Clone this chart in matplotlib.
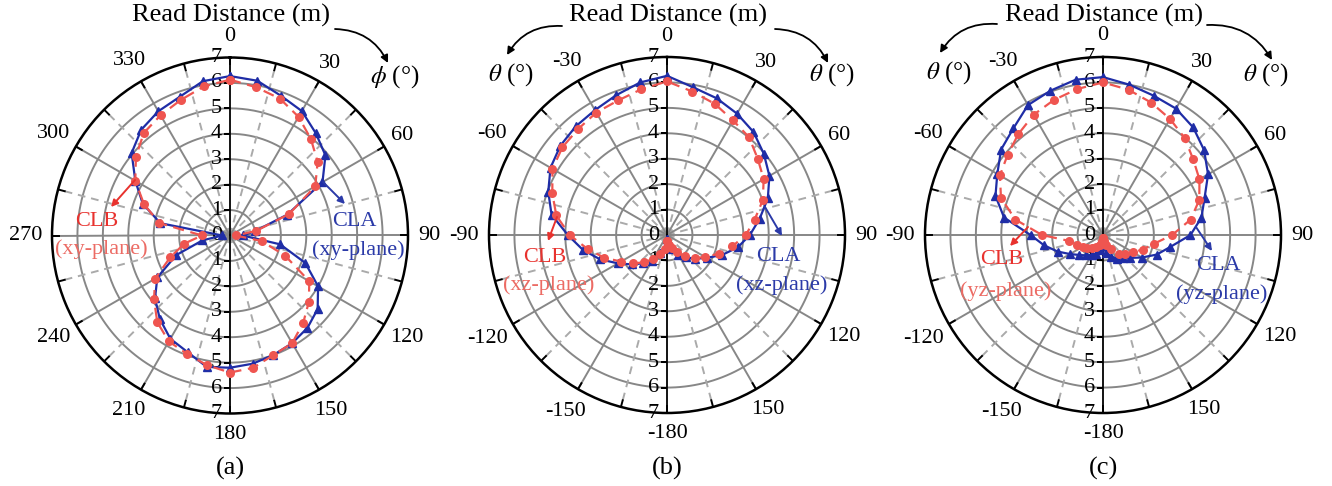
import numpy as np
import matplotlib
matplotlib.use("Agg")
import matplotlib.pyplot as plt
from matplotlib.patches import FancyArrowPatch
from matplotlib.transforms import offset_copy

plt.rcParams['font.family'] = ['Liberation Serif', 'DejaVu Serif']
plt.rcParams['mathtext.fontset'] = 'stix'

# ---------------- data ----------------
# panel (a): phi = 0..350 deg (xy-plane)
phi_a = list(range(0, 360, 10))
cla_a = [6.27, 6.18, 5.85, 5.65, 5.25, 4.9, 4.2, 2.4, 1.0, 0.5, 2.0, 3.15,
         4.0, 4.5, 4.74, 4.89, 5.0, 5.12, 5.2, 5.25, 4.88, 4.69, 4.29, 3.85,
         3.3, 2.25, 1.1, 0.3, 2.78, 3.65, 4.3, 5.05, 5.43, 5.64, 5.8, 6.16]
clb_a = [6.13, 5.92, 5.73, 5.39, 4.95, 4.5, 3.87, 2.48, 1.04, 0.23, 1.26, 2.3,
         3.6, 4.05, 4.48, 4.89, 5.0, 5.28, 5.39, 5.18, 4.95, 4.81, 4.45, 3.9,
         3.4, 2.5, 1.82, 1.1, 2.82, 3.6, 4.3, 4.83, 5.27, 5.46, 5.67, 5.95]

# panels (b), (c): theta = -180..170 deg
theta_bc = list(range(-180, 180, 10))
cla_b = [0.15, 0.5, 0.75, 1.16, 1.45, 1.8, 2.23, 2.8, 3.36, 3.9, 4.61, 4.97,
         5.29, 5.47, 5.58, 5.67, 5.85, 6.09, 6.26, 5.9, 5.72, 5.51, 5.29, 4.97,
         4.65, 4.22, 3.7, 3.26, 2.82, 2.3, 1.8, 1.45, 1.15, 0.9, 0.6, 0.35]
clb_b = [0.25, 0.55, 0.8, 1.09, 1.4, 1.74, 2.09, 2.62, 3.17, 3.83, 4.42, 4.8,
         5.2, 5.37, 5.44, 5.56, 5.63, 5.82, 6.04, 5.73, 5.49, 5.2, 5.02, 4.66,
         4.39, 4.01, 3.5, 3.1, 2.6, 2.16, 1.72, 1.42, 1.1, 0.78, 0.55, 0.4]
cla_c = [0.43, 0.6, 0.78, 0.9, 1.05, 1.22, 1.5, 1.9, 2.35, 2.85, 3.95, 4.5,
         4.8, 5.23, 5.48, 5.9, 6.04, 6.2, 6.21, 6.0, 5.83, 5.74, 5.52, 5.19,
         4.77, 4.25, 3.93, 3.44, 2.69, 2.25, 1.77, 1.4, 1.2, 1.07, 0.9, 0.7]
clb_c = [0.1, 0.25, 0.4, 0.55, 0.68, 0.8, 0.93, 1.1, 1.35, 2.4, 3.5, 4.27,
         4.68, 4.9, 5.18, 5.46, 5.65, 5.83, 6.0, 5.8, 5.54, 5.27, 4.99, 4.63,
         4.38, 4.03, 3.5, 2.72, 2.02, 1.67, 1.35, 1.15, 0.95, 0.63, 0.4, 0.25]

ticks_a = ['0', '30', '60', '90', '120', '150', '180', '210', '240', '270', '300', '330']
ticks_bc = ['0', '30', '60', '90', '120', '150', '-180', '-150', '-120', '-90', '-60', '-30']
rticks = [0, 1, 2, 3, 4, 5, 6, 7]
plane_names = ['(xy-plane)', '(xz-plane)', '(yz-plane)']
panel_names = ['(a)', '(b)', '(c)']

# ---------------- style ----------------
W, H = 1332, 486
R_PX = 178
RMAX = 7
BLUE = '#1f2da6'
BLUE_T = '#2b3aa8'
RED = '#ef5550'
RED_T = '#e8322e'
RED_T2 = '#ec6b64'
GRID = '#878787'
GRID_D = '#aaaaaa'
FS = 16

fig = plt.figure(figsize=(W / 100, H / 100), dpi=100)


def fx(x):
    return x / W


def fy(y):
    return 1 - y / H


def half_width(lab):
    return sum(3.7 if c == '-' else 5.5 for c in lab)


def make_ax(cx, cy, tick_labels):
    ax = fig.add_axes([(cx - R_PX) / W, (H - cy - R_PX) / H, 2 * R_PX / W, 2 * R_PX / H],
                      projection='polar')
    ax.set_theta_zero_location('N')
    ax.set_theta_direction(-1)
    ax.set_ylim(0, RMAX)
    ax.grid(False)
    ax.set_xticks([])
    ax.set_yticks([])
    ax.spines['polar'].set_linewidth(1.8)
    ax.spines['polar'].set_color('black')
    ax.patch.set_facecolor('white')
    th = np.linspace(0, 2 * np.pi, 400)
    for r in range(1, RMAX):
        ax.plot(th, np.full_like(th, r), color=GRID, lw=1.4, zorder=1)
    for d in range(15, 360, 30):
        t = np.deg2rad(d)
        ax.plot([t, t], [0, RMAX], color=GRID_D, lw=1.4, ls=(0, (4, 3)), zorder=1)
    for d in range(0, 360, 30):
        t = np.deg2rad(d)
        if d in (0, 180):
            ax.plot([t, t], [0, RMAX], color='black', lw=1.3, zorder=1.5)
        else:
            ax.plot([t, t], [0, RMAX], color=GRID, lw=1.4, zorder=1)
    for d in range(0, 360, 15):
        t = np.deg2rad(d)
        ax.plot([t, t], [RMAX - 0.27, RMAX], color='black', lw=1.4, zorder=2)
    for k in range(1, RMAX + 1):
        for t in (0, np.pi):
            ax.plot([t], [k], marker=0, color='black', ms=4, mew=1.2, zorder=2)
    for d, lab in zip(range(0, 360, 30), tick_labels):
        t = np.deg2rad(d)
        dist = 199 + max(0.0, half_width(lab) - 11) * abs(np.sin(t))
        ax.text(t, RMAX * dist / R_PX, lab, ha='center', va='center', fontsize=FS,
                clip_on=False)
    tr = offset_copy(ax.transData, fig=fig, x=-8, y=0, units='dots')
    for k in rticks:
        ax.text(0, k, str(k), transform=tr, ha='right', va='center', fontsize=FS, zorder=4)
        if k > 0:
            ax.text(np.pi, k, str(k), transform=tr, ha='right', va='center', fontsize=FS, zorder=4)
    return ax


def draw_series(ax, ang, cla, clb):
    t = np.deg2rad(np.array(list(ang) + [ang[0]]))
    a = np.array(list(cla) + [cla[0]])
    b = np.array(list(clb) + [clb[0]])
    ax.plot(t, a, color=BLUE, lw=1.6, marker='^', ms=6, zorder=5, clip_on=False)
    ax.plot(t, b, color=RED, lw=1.6, ls=(0, (5, 3)), marker='o', ms=6.5,
            markeredgewidth=0, zorder=6, clip_on=False)


def arrow(p0, p1, color, rad=0.0, ms=11, lw=1.3):
    a = FancyArrowPatch((fx(p0[0]), fy(p0[1])), (fx(p1[0]), fy(p1[1])),
                        transform=fig.transFigure, arrowstyle='-|>',
                        connectionstyle=f'arc3,rad={rad}', color=color,
                        mutation_scale=ms, lw=lw, shrinkA=0, shrinkB=0)
    fig.add_artist(a)


centers = [(230, 235.5), (667, 235), (1103, 235)]
axes = []
axes.append(make_ax(*centers[0], ticks_a))
axes.append(make_ax(*centers[1], ticks_bc))
axes.append(make_ax(*centers[2], ticks_bc))

draw_series(axes[0], phi_a, cla_a, clb_a)
draw_series(axes[1], theta_bc, cla_b, clb_b)
draw_series(axes[2], theta_bc, cla_c, clb_c)

# titles and panel labels
for (cx, cy), pn in zip(centers, panel_names):
    fig.text(fx(cx + 1), fy(15), 'Read Distance (m)', ha='center', va='center', fontsize=19)
    fig.text(fx(cx), fy(468), pn, ha='center', va='center', fontsize=19)

# curved arrows near titles
arrow((335, 29), (388, 63), 'black', rad=-0.3)
fig.text(fx(395), fy(77), r'$\phi$ (°)', ha='center', va='center', fontsize=18)

arrow((562, 26), (507, 55), 'black', rad=0.3)
arrow((775, 29), (828, 63), 'black', rad=-0.3)
fig.text(fx(511), fy(75), r'$\theta$ (°)', ha='center', va='center', fontsize=18)
fig.text(fx(832), fy(75), r'$\theta$ (°)', ha='center', va='center', fontsize=18)

arrow((997, 24), (940, 53), 'black', rad=0.3)
arrow((1207, 25), (1272, 60), 'black', rad=-0.3)
fig.text(fx(949), fy(73), r'$\theta$ (°)', ha='center', va='center', fontsize=18)
fig.text(fx(1266), fy(75), r'$\theta$ (°)', ha='center', va='center', fontsize=18)

# series annotations
ann = [
    # red arrow, blue arrow, CLB pos, plane pos, CLA pos, plane pos
    (((135, 180), (111, 207)), ((323, 182), (345, 204)), (97, 221), (101, 249), (354, 221), (358, 250)),
    (((557, 217), (548, 241)), ((765, 207), (782, 236)), (545, 257), (549, 285), (778, 256), (782, 285)),
    (((1028, 227), (1010, 246)), ((1196, 227), (1212, 251)), (1002, 260), (1006, 291), (1218, 266), (1222, 294)),
]
for (ra, ba, clbp, plb, clap, pla), pname in zip(ann, plane_names):
    arrow(ra[0], ra[1], RED_T, ms=10, lw=1.4)
    arrow(ba[0], ba[1], BLUE_T, ms=10, lw=1.4)
    fig.text(fx(clbp[0]), fy(clbp[1]), 'CLB', color=RED_T, ha='center', va='center', fontsize=16)
    fig.text(fx(plb[0]), fy(plb[1]), pname, color=RED_T2, ha='center', va='center', fontsize=16)
    fig.text(fx(clap[0]), fy(clap[1]), 'CLA', color=BLUE_T, ha='center', va='center', fontsize=16)
    fig.text(fx(pla[0]), fy(pla[1]), pname, color=BLUE_T, ha='center', va='center', fontsize=16)

fig.savefig('out.png', dpi=100)
